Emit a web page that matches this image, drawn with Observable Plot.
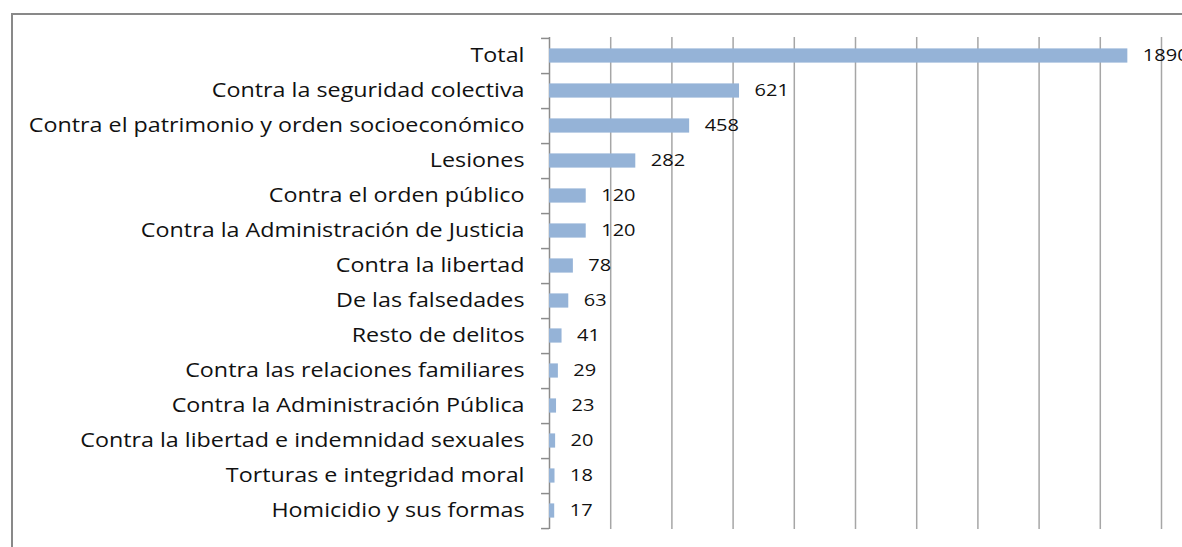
<!DOCTYPE html>
<html>
<head>
<meta charset="utf-8">
<script src="https://cdn.jsdelivr.net/npm/d3@7"></script>
<script src="https://cdn.jsdelivr.net/npm/@observablehq/plot@0.6"></script>
<style>
  html, body { margin: 0; padding: 0; background: #fff; overflow: hidden; }
  #wrap { position: relative; width: 1182px; height: 547px; }
  #border { position: absolute; left: 11px; top: 13px; width: 1200px; height: 600px;
            border-left: 2px solid #898989; border-top: 2px solid #898989; box-sizing: border-box; }
  #chart { position: absolute; left: 0; top: 0; }
</style>
</head>
<body>
<div id="wrap"><div id="border"></div><div id="chart"></div></div>
<script>
const categories = [
  "Total",
  "Contra la seguridad colectiva",
  "Contra el patrimonio y orden socioeconómico",
  "Lesiones",
  "Contra el orden público",
  "Contra la Administración de Justicia",
  "Contra la libertad",
  "De las falsedades",
  "Resto de delitos",
  "Contra las relaciones familiares",
  "Contra la Administración Pública",
  "Contra la libertad e indemnidad sexuales",
  "Torturas e integridad moral",
  "Homicidio y sus formas"
];
const values = [1890, 621, 458, 282, 120, 120, 78, 63, 41, 29, 23, 20, 18, 17];
const xTicks = [0, 200, 400, 600, 800, 1000, 1200, 1400, 1600, 1800, 2000];

const data = categories.map((c, i) => ({category: c, value: values[i]}));

const W = 1182, H = 547;
const mTop = 37, mBottom = 18, mLeft = 549, mRight = 21;
const step = (H - mTop - mBottom) / categories.length;

const chart = Plot.plot({
  width: W,
  height: H,
  marginTop: mTop,
  marginBottom: mBottom,
  marginLeft: mLeft,
  marginRight: mRight,
  style: {background: "transparent", overflow: "visible"},
  x: {domain: [0, 2000], axis: null},
  y: {domain: categories, padding: 0, axis: null},
  marks: [
    Plot.ruleX(xTicks.slice(1), {stroke: "#a6a6a6", strokeWidth: 1.5, strokeOpacity: 1}),
    Plot.ruleX([0], {stroke: "#8c8c8c", strokeWidth: 1.5}),
    Plot.ruleY(categories, {y: d => d, x1: -26, x2: 0, dy: step / 2, stroke: "#8c8c8c", strokeWidth: 1.5}),
    Plot.ruleY([categories[0]], {y: d => d, x1: -26, x2: 0, dy: -step / 2, stroke: "#8c8c8c", strokeWidth: 1.5}),
    Plot.barX(data, {y: "category", x: "value", fill: "#95b3d7", insetTop: 10.4, insetBottom: 10.4}),
    Plot.text(data, {y: "category", x: "value", text: d => String(d.value), textAnchor: "start", dx: 15,
      fill: "#111", fontSize: 16, fontFamily: "Open Sans"}),
    Plot.text(data, {y: "category", x: 0, text: "category", textAnchor: "end", dx: -25,
      fill: "#111", fontSize: 20, fontFamily: "Open Sans"})
  ]
});
// stretch glyphs horizontally, as in the reference
const textGroups = d3.select(chart).selectAll("g[aria-label='text']").nodes();
const stretch = [1.25, 1.165];
textGroups.forEach((g, i) => {
  d3.select(g).selectAll("text").each(function() {
    const t = this.getAttribute("transform") || "";
    this.setAttribute("transform", t + ` scale(${stretch[i]},1)`);
  });
});
document.getElementById("chart").appendChild(chart);
</script>
</body>
</html>
